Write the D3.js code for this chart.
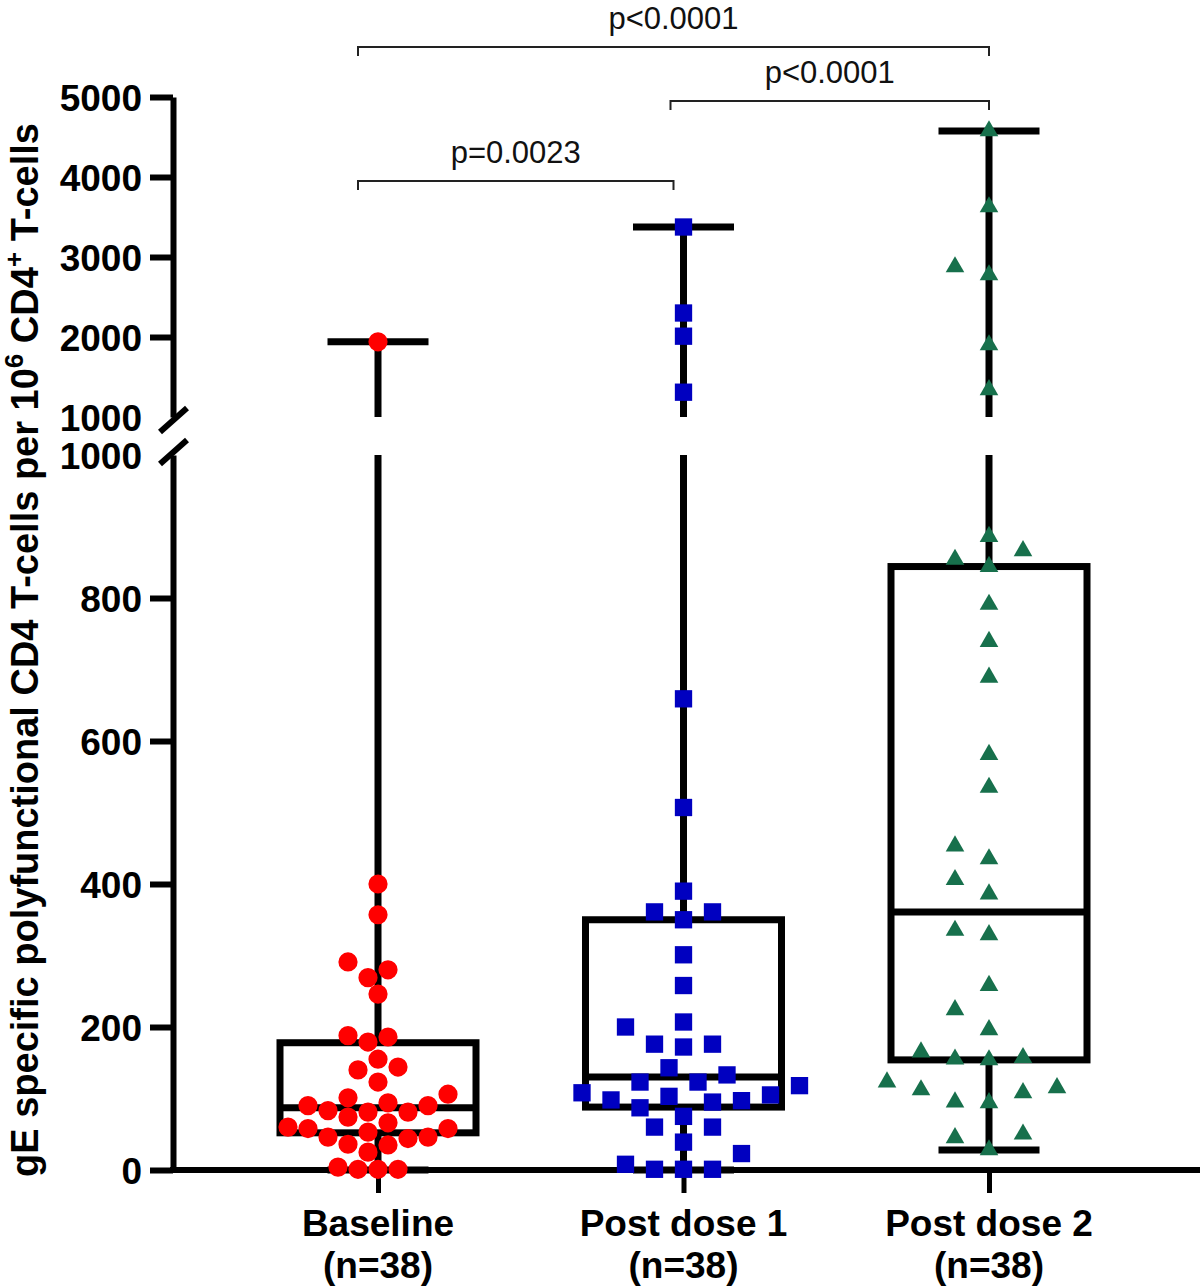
<!DOCTYPE html>
<html><head><meta charset="utf-8">
<script src="https://cdn.jsdelivr.net/npm/d3@7"></script>
<style>body{margin:0;background:#fff} svg{display:block}</style>
</head><body>
<script>
// ---------- data ----------
const categories = ["Baseline", "Post dose 1", "Post dose 2"];
const nLabels = ["(n=38)", "(n=38)", "(n=38)"];

const baselineValues = [1940, 400, 357, 291, 280, 269, 246, 186, 179, 188, 155, 144, 140, 123, 106, 101, 94, 90, 90, 83,
  81, 74, 81, 60, 58, 66, 58, 46, 46, 53, 44, 36, 25, 35, 4, 1, 1, 1];
const postDose1Values = [3375, 2300, 2010, 1310, 659, 507, 390, 361, 361, 350, 301, 258, 200, 207, 176, 172, 176, 143, 133,
  123, 123, 118, 103, 98, 108, 105, 95, 97, 87, 75, 60, 60, 39, 23, 8, 1, 1, 1];
const postDose2Values = [4575, 3625, 2775, 2875, 1900, 1340, 886, 854, 866, 844, 791, 739, 689, 581, 535, 453, 435, 406,
  386, 329, 335, 258, 224, 196, 157, 154, 155, 165, 123, 115, 112, 108, 94, 95, 50, 45, 28];

const boxMin = [0, 0, 28];
const boxQ1 = [52, 88, 154];
const boxMedian = [87, 130, 361];
const boxQ3 = [178, 350, 844];
const boxMax = [1940, 3375, 4575];

const lowerTicks = [0, 200, 400, 600, 800, 1000];
const upperTicks = [1000, 2000, 3000, 4000, 5000];

const compFrom = [0, 1, 0];
const compTo = [2, 2, 1];
const compLabel = ["p<0.0001", "p<0.0001", "p=0.0023"];

// ---------- layout ----------
const W = 1200, H = 1288;
const axisX = 173;
const breakValue = 1000;
const yLow = d3.scaleLinear().domain([0, 1000]).range([1170, 455]);
const yHigh = d3.scaleLinear().domain([1000, 5000]).range([417, 97]);
const yOf = v => v <= breakValue ? yLow(v) : yHigh(v);
const x = d3.scalePoint().domain(categories).range([378, 989]);

const seriesValues = [baselineValues, postDose1Values, postDose2Values];
const seriesColor = ["#ff0000", "#0000c0", "#17704c"];
const seriesSymbol = [d3.symbolCircle, d3.symbolSquare, d3.symbolTriangle];
const seriesSize = [290, 300, 150];
const seriesStep = [10, 14.5, 17];
const seriesDist = [19, 23, 27];

const svg = d3.select("body").append("svg").attr("width", W).attr("height", H)
  .style("font-family", "'Liberation Sans', Arial, sans-serif");

// ---------- y axes ----------
function styleAxis(g) {
  g.select(".domain").attr("stroke", "#000").attr("stroke-width", 6);
  g.selectAll(".tick line").attr("stroke", "#000").attr("stroke-width", 6);
  g.selectAll(".tick text").attr("fill", "#000").style("font-size", "37px").style("font-weight", "bold")
    .style("font-family", "'Liberation Sans', Arial, sans-serif");
}
const gLow = svg.append("g").attr("transform", `translate(${axisX},0)`)
  .call(d3.axisLeft(yLow).tickValues(lowerTicks).tickSize(23).tickSizeOuter(0).tickPadding(8).tickFormat(d3.format("d")));
styleAxis(gLow);
gLow.selectAll(".tick").filter(d => d === 1000).select("line").remove();
gLow.selectAll(".tick text").attr("dy", "0.36em");

const gHigh = svg.append("g").attr("transform", `translate(${axisX},0)`)
  .call(d3.axisLeft(yHigh).tickValues(upperTicks).tickSize(23).tickSizeOuter(0).tickPadding(8).tickFormat(d3.format("d")));
styleAxis(gHigh);
gHigh.selectAll(".tick").filter(d => d === 1000).select("line").remove();
gHigh.selectAll(".tick text").attr("dy", "0.36em");

// break slashes
[[yHigh(breakValue) + 3], [yLow(breakValue) - 3]].forEach(([yy]) => {
  svg.append("line").attr("x1", axisX - 13).attr("y1", yy + 12).attr("x2", axisX + 14).attr("y2", yy - 12)
    .attr("stroke", "#000").attr("stroke-width", 6);
});

// ---------- boxes & whiskers ----------
const boxW = 196, capW = 101, lw = 7;
const gBox = svg.append("g").attr("stroke", "#000").attr("stroke-width", lw).attr("fill", "none");
categories.forEach((c, i) => {
  const cx = x(c);
  if (boxMax[i] > breakValue) {
    gBox.append("line").attr("x1", cx).attr("x2", cx).attr("y1", yLow(boxQ3[i])).attr("y2", yLow(breakValue));
    gBox.append("line").attr("x1", cx).attr("x2", cx).attr("y1", yHigh(breakValue)).attr("y2", yHigh(boxMax[i]));
  } else {
    gBox.append("line").attr("x1", cx).attr("x2", cx).attr("y1", yLow(boxQ3[i])).attr("y2", yLow(boxMax[i]));
  }
  gBox.append("line").attr("x1", cx - capW / 2).attr("x2", cx + capW / 2).attr("y1", yOf(boxMax[i])).attr("y2", yOf(boxMax[i]));
  gBox.append("line").attr("x1", cx).attr("x2", cx).attr("y1", yLow(boxQ1[i])).attr("y2", yLow(boxMin[i]));
  gBox.append("line").attr("x1", cx - capW / 2).attr("x2", cx + capW / 2).attr("y1", yLow(boxMin[i])).attr("y2", yLow(boxMin[i]));
  gBox.append("rect").attr("x", cx - boxW / 2).attr("width", boxW)
    .attr("y", yLow(boxQ3[i])).attr("height", yLow(boxQ1[i]) - yLow(boxQ3[i])).attr("fill", "none");
  gBox.append("line").attr("x1", cx - boxW / 2).attr("x2", cx + boxW / 2).attr("y1", yLow(boxMedian[i])).attr("y2", yLow(boxMedian[i]));
});

// ---------- x axis ----------
svg.append("line").attr("x1", axisX - 3).attr("x2", W).attr("y1", yLow(0)).attr("y2", yLow(0))
  .attr("stroke", "#000").attr("stroke-width", 6);
const gX = svg.append("g").attr("transform", `translate(0,${yLow(0)})`)
  .call(d3.axisBottom(x).tickSize(23).tickFormat(""));
gX.select(".domain").remove();
gX.selectAll(".tick line").attr("stroke", "#000").attr("stroke-width", 5);
const xl = svg.append("g").style("font-size", "37px").style("font-weight", "bold").attr("text-anchor", "middle");
categories.forEach((c, i) => {
  xl.append("text").attr("x", x(c)).attr("y", 1236).text(c);
  xl.append("text").attr("x", x(c)).attr("y", 1278).text(nLabels[i]);
});

// ---------- points (beeswarm) ----------
function swarm(values, cx, step, minDist) {
  const pts = values.map(v => ({ v, y: yOf(v) })).sort((a, b) => b.y - a.y);
  const placed = [];
  for (const p of pts) {
    for (let k = 0; k < 80; k++) {
      const off = (k === 0 ? 0 : (k % 2 ? -Math.ceil(k / 2) : Math.ceil(k / 2))) * step;
      if (placed.every(q => Math.hypot(q.x - (cx + off), q.y - p.y) >= minDist)) { p.x = cx + off; break; }
    }
    placed.push(p);
  }
  return pts;
}
categories.forEach((c, i) => {
  const pts = swarm(seriesValues[i], x(c), seriesStep[i], seriesDist[i]);
  svg.append("g").selectAll("path").data(pts).join("path")
    .attr("transform", d => `translate(${d.x},${d.y})`)
    .attr("d", d3.symbol().type(seriesSymbol[i]).size(seriesSize[i]))
    .attr("fill", seriesColor[i]);
});

// ---------- comparison brackets ----------
const bracketY = [47, 101, 181];
const bracketL = [20, 13, 20];
const bracketR = [0, 0, 10];
const gB = svg.append("g");
compLabel.forEach((lab, j) => {
  const x1 = x(categories[compFrom[j]]) - bracketL[j];
  const x2 = x(categories[compTo[j]]) - bracketR[j];
  const yy = bracketY[j];
  gB.append("path").attr("d", `M${x1},${yy + 9}V${yy}H${x2}V${yy + 9}`)
    .attr("fill", "none").attr("stroke", "#222").attr("stroke-width", 2);
  gB.append("text").attr("x", (x1 + x2) / 2).attr("y", yy - 18).attr("text-anchor", "middle")
    .style("font-size", "31px").attr("fill", "#111").text(lab);
});

// ---------- y title ----------
const t = svg.append("text").attr("transform", "translate(38,650) rotate(-90)")
  .attr("text-anchor", "middle").style("font-size", "38px").style("font-weight", "bold");
t.append("tspan").text("gE specific polyfunctional CD4 T-cells per 10");
t.append("tspan").attr("dy", -15).style("font-size", "26px").text("6");
t.append("tspan").attr("dy", 15).text(" CD4");
t.append("tspan").attr("dy", -15).style("font-size", "26px").text("+");
t.append("tspan").attr("dy", 15).text(" T-cells");
</script>
</body></html>
